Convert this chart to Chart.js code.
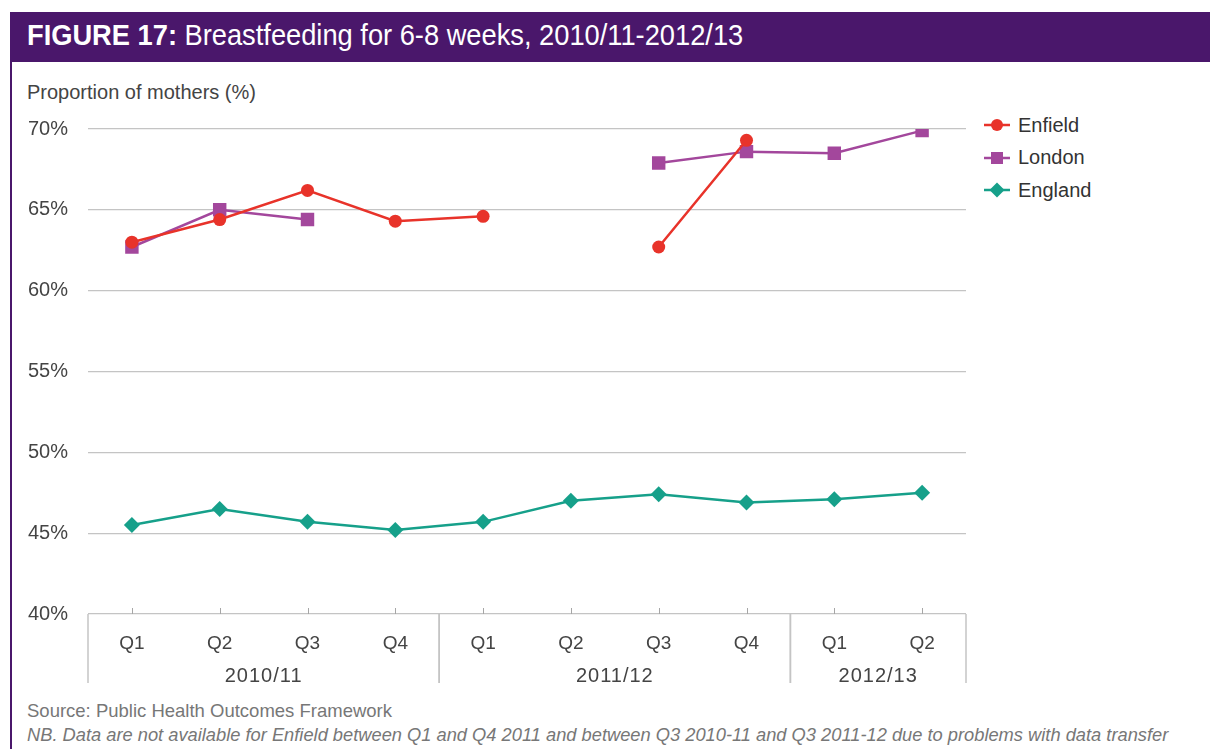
<!DOCTYPE html>
<html>
<head>
<meta charset="utf-8">
<script src="https://cdn.jsdelivr.net/npm/chart.js@4"></script>
<style>
  html, body { margin: 0; padding: 0; background: #fff; }
  body { width: 1210px; height: 749px; position: relative; overflow: hidden; font-family: "Liberation Sans", Arial, sans-serif; }
  #header { position: absolute; left: 10px; top: 12px; width: 1200px; height: 50px; background: #4a176b; }
  #header span { position: absolute; left: 17px; top: 7px; color: #fff; font-family: "Liberation Sans Narrow", "Liberation Sans", sans-serif; font-size: 29px; white-space: nowrap; transform: scaleX(0.94); transform-origin: left center; }
  #border { position: absolute; left: 10px; top: 62px; width: 2px; height: 687px; background: #4a176b; }
  #ytitle { position: absolute; left: 27px; top: 81px; font-size: 20px; color: #444; white-space: nowrap; }
  #chartBox { position: absolute; left: 0; top: 97px; width: 980px; height: 603px; }
  #legend { position: absolute; left: 983px; top: 109px; }
  .item { height: 32.5px; display: flex; align-items: center; font-size: 20px; color: #333; }
  .item svg { margin-right: 7px; }
  #source { position: absolute; left: 27px; top: 700px; font-size: 18.5px; color: #777; white-space: nowrap; }
  #note { position: absolute; left: 27px; top: 724px; font-size: 18.3px; color: #777; font-style: italic; white-space: nowrap; }
</style>
</head>
<body>
<div id="header"><span><b>FIGURE 17:</b> Breastfeeding for 6-8 weeks, 2010/11-2012/13</span></div>
<div id="border"></div>
<div id="ytitle">Proportion of mothers (%)</div>
<div id="chartBox"><canvas id="chart"></canvas></div>
<div id="legend"></div>
<div id="source">Source: Public Health Outcomes Framework</div>
<div id="note">NB. Data are not available for Enfield between Q1 and Q4 2011 and between Q3 2010-11 and Q3 2011-12 due to problems with data transfer</div>

<script>
// quarters and the financial year each one belongs to
const quarters = ['Q1', 'Q2', 'Q3', 'Q4', 'Q1', 'Q2', 'Q3', 'Q4', 'Q1', 'Q2'];
const years = ['2010/11', '2010/11', '2010/11', '2010/11', '2011/12', '2011/12', '2011/12', '2011/12', '2012/13', '2012/13'];

// proportion of mothers breastfeeding at 6-8 weeks (%), null = not available
const enfield = [63.0, 64.4, 66.2, 64.3, 64.6, null, 62.7, 69.3, null, null];
const london = [62.7, 65.0, 64.4, null, null, null, 67.9, 68.6, 68.5, 69.9];
const england = [45.5, 46.5, 45.7, 45.2, 45.7, 47.0, 47.4, 46.9, 47.1, 47.5];

const yTicks = [40, 45, 50, 55, 60, 65, 70];

const series = [
    { label: 'Enfield', data: enfield, color: '#e8332a', shape: 'circle', radius: 6.5 },
    { label: 'London', data: london, color: '#a3479c', shape: 'rect', radius: 9.5 },
    { label: 'England', data: england, color: '#16a08a', shape: 'rectRot', radius: 8 }
];

// group separators, year labels and small inner tick marks on the category axis
const yearGroups = {
    id: 'yearGroups',
    afterDraw(chart) {
        const ctx = chart.ctx;
        const x = chart.scales.x;
        const area = chart.chartArea;
        const half = (x.getPixelForValue(1) - x.getPixelForValue(0)) / 2;
        ctx.save();

        // small ticks pointing up at each quarter
        ctx.strokeStyle = '#a6a6a6';
        ctx.lineWidth = 1;
        quarters.forEach((q, i) => {
            const px = Math.round(x.getPixelForValue(i)) + 0.5;
            ctx.beginPath();
            ctx.moveTo(px, area.bottom - 6);
            ctx.lineTo(px, area.bottom);
            ctx.stroke();
        });

        // find where each year starts and ends
        const groups = [];
        years.forEach((y, i) => {
            const last = groups[groups.length - 1];
            if (last && last.name === y) last.end = i;
            else groups.push({ name: y, start: i, end: i });
        });

        ctx.strokeStyle = '#c4c4c4';
        ctx.lineWidth = 1.5;
        ctx.fillStyle = '#444';
        ctx.font = '20px "Liberation Sans", Arial, sans-serif';
        ctx.letterSpacing = '1px';
        ctx.textAlign = 'center';
        ctx.textBaseline = 'middle';
        groups.forEach(g => {
            const left = x.getPixelForValue(g.start) - half;
            const right = x.getPixelForValue(g.end) + half;
            [left, right].forEach(px => {
                ctx.beginPath();
                ctx.moveTo(px, area.bottom);
                ctx.lineTo(px, area.bottom + 69);
                ctx.stroke();
            });
            ctx.fillText(g.name, (left + right) / 2, area.bottom + 62);
        });
        ctx.restore();
    }
};

new Chart(document.getElementById('chart'), {
    type: 'line',
    data: {
        labels: quarters,
        datasets: series.map(s => ({
            label: s.label,
            data: s.data,
            borderColor: s.color,
            backgroundColor: s.color,
            borderWidth: 2.5,
            pointStyle: s.shape,
            pointRadius: s.radius,
            pointHoverRadius: s.radius,
            pointBorderWidth: 0,
            spanGaps: false,
            tension: 0
        }))
    },
    options: {
        responsive: true,
        maintainAspectRatio: false,
        animation: false,
        layout: { padding: { top: 23, right: 14, left: 0, bottom: 0 } },
        plugins: { legend: { display: false }, tooltip: { enabled: false } },
        scales: {
            x: {
                offset: true,
                grid: { display: false },
                border: { display: false },
                ticks: { color: '#444', font: { size: 19, family: '"Liberation Sans", Arial, sans-serif' }, padding: 10, maxRotation: 0 },
                afterFit(scale) { scale.height = 86; }
            },
            y: {
                min: yTicks[0],
                max: yTicks[yTicks.length - 1],
                afterBuildTicks(scale) { scale.ticks = yTicks.map(v => ({ value: v })); },
                grid: { color: '#c4c4c4', lineWidth: 1.2, drawTicks: false },
                border: { display: false },
                ticks: {
                    color: '#444',
                    font: { size: 20, family: '"Liberation Sans", Arial, sans-serif' },
                    padding: 20,
                    callback: v => v + '%'
                },
                afterFit(scale) { scale.width = 88; }
            }
        }
    },
    plugins: [yearGroups]
});

// legend: a short line with the series marker, then the name
const legend = document.getElementById('legend');
series.forEach(s => {
    let mark;
    if (s.shape === 'circle') mark = `<circle cx="14" cy="9" r="6" fill="${s.color}"/>`;
    else if (s.shape === 'rect') mark = `<rect x="8" y="3" width="12" height="12" fill="${s.color}"/>`;
    else mark = `<polygon points="14,1.5 21.5,9 14,16.5 6.5,9" fill="${s.color}"/>`;
    const div = document.createElement('div');
    div.className = 'item';
    div.innerHTML = `<svg width="28" height="18"><line x1="1" y1="9" x2="27" y2="9" stroke="${s.color}" stroke-width="2.5"/>${mark}</svg>${s.label}`;
    legend.appendChild(div);
});
</script>
</body>
</html>
